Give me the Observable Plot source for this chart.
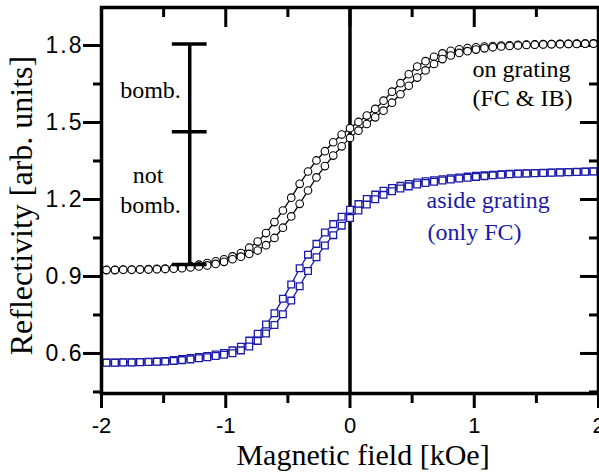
<!DOCTYPE html>
<html>
<head>
<meta charset="utf-8">
<script src="https://cdn.jsdelivr.net/npm/d3@7"></script>
<script src="https://cdn.jsdelivr.net/npm/@observablehq/plot@0.6"></script>
<style>
  html, body { margin: 0; padding: 0; background: white; }
</style>
</head>
<body>
<div id="chart"></div>
<script>
// Magnetic field [kOe] sample positions
const field = [-1.960,-1.892,-1.825,-1.757,-1.690,-1.622,-1.554,-1.487,-1.419,-1.352,
  -1.284,-1.216,-1.149,-1.081,-1.014,-0.946,-0.878,-0.811,-0.743,-0.676,
  -0.608,-0.540,-0.473,-0.405,-0.338,-0.270,-0.202,-0.135,-0.067,0.000,
  0.068,0.135,0.203,0.270,0.338,0.406,0.473,0.541,0.608,0.676,
  0.744,0.811,0.879,0.946,1.014,1.082,1.149,1.217,1.284,1.352,
  1.420,1.487,1.555,1.622,1.690,1.758,1.825,1.893,1.960];

// on grating (FC & IB): descending branch (left-shifted) and ascending branch
const onGratingDown = [0.926,0.926,0.927,0.927,0.928,0.929,0.930,0.931,0.933,0.936,
  0.940,0.946,0.952,0.959,0.967,0.978,0.991,1.012,1.036,1.069,
  1.112,1.157,1.207,1.261,1.309,1.352,1.388,1.423,1.453,1.478,
  1.502,1.527,1.553,1.585,1.620,1.653,1.688,1.718,1.739,1.756,
  1.769,1.779,1.785,1.790,1.793,1.796,1.798,1.800,1.801,1.802,
  1.803,1.804,1.805,1.805,1.806,1.806,1.807,1.807,1.808];
const onGratingUp = [0.925,0.925,0.926,0.926,0.927,0.927,0.928,0.929,0.930,0.932,
  0.935,0.939,0.943,0.949,0.957,0.967,0.977,0.988,1.001,1.022,
  1.050,1.090,1.134,1.183,1.235,1.286,1.330,1.371,1.407,1.440,
  1.468,1.494,1.520,1.546,1.577,1.610,1.643,1.675,1.703,1.728,
  1.747,1.761,1.771,1.778,1.784,1.789,1.793,1.796,1.798,1.800,
  1.802,1.803,1.804,1.805,1.805,1.806,1.806,1.807,1.807];

// aside grating (only FC)
const asideDown = [0.565,0.565,0.566,0.566,0.567,0.568,0.569,0.571,0.574,0.578,
  0.582,0.586,0.590,0.596,0.602,0.612,0.626,0.650,0.677,0.713,
  0.757,0.813,0.869,0.932,0.985,1.027,1.071,1.104,1.133,1.160,
  1.182,1.202,1.219,1.234,1.245,1.253,1.260,1.266,1.271,1.275,
  1.279,1.283,1.286,1.289,1.292,1.294,1.296,1.298,1.300,1.301,
  1.302,1.303,1.304,1.305,1.306,1.307,1.308,1.309,1.310];
const asideUp = [0.564,0.564,0.565,0.565,0.566,0.567,0.568,0.569,0.571,0.574,
  0.577,0.581,0.585,0.590,0.595,0.601,0.612,0.627,0.649,0.678,
  0.711,0.753,0.806,0.862,0.921,0.975,1.021,1.061,1.098,1.128,
  1.157,1.180,1.201,1.218,1.232,1.243,1.251,1.258,1.264,1.269,
  1.274,1.278,1.282,1.285,1.288,1.291,1.294,1.296,1.298,1.300,
  1.301,1.302,1.303,1.304,1.305,1.306,1.307,1.308,1.309];

// "bomb." / "not bomb." bar: x position and y levels
const barField = -1.29;
const barLevels = [0.947, 1.464, 1.806];

// tick values
const xMajor = [-2, -1, 0, 1, 2];
const xMinor = [-1.5, -0.5, 0.5, 1.5];
const yMajor = [0.6, 0.9, 1.2, 1.5, 1.8];
const yMinor = [0.45, 0.75, 1.05, 1.35, 1.65];

// annotations
const noteText = ["on grating", "(FC & IB)", "aside grating", "(only FC)"];
const noteX = [0.986, 0.985, 0.616, 0.624];
const noteY = [1.678, 1.565, 1.168, 1.044];
const barText = ["bomb.", "not", "bomb."];
const barTextX = [-1.606, -1.626, -1.606];
const barTextY = [1.596, 1.266, 1.149];

const blue = "#1a1aaa";
const pts = ys => field.map((x, i) => ({x, y: ys[i]}));
const notes = noteText.map((t, i) => ({t, x: noteX[i], y: noteY[i], c: i < 2 ? "black" : blue}));
const bnotes = barText.map((t, i) => ({t, x: barTextX[i], y: barTextY[i]}));

const W = 599, H = 474, mL = 101, mR = 1, mT = 7, mB = 81;
const fw = W - mL - mR, fh = H - mT - mB;
const capHalf = 0.14;

const serif = "'Liberation Serif', 'Times New Roman', serif";
const sans = "'Liberation Sans', Arial, sans-serif";

const chart = Plot.plot({
  width: W, height: H,
  marginLeft: mL, marginRight: mR, marginTop: mT, marginBottom: mB,
  x: {domain: [-2, 2]},
  y: {domain: [0.444, 1.948]},
  style: {fontFamily: sans, background: "white", color: "black"},
  marks: [
    Plot.axisX({anchor: "bottom", ticks: xMajor, tickSize: 15, strokeWidth: 3, tickPadding: 9,
      fontSize: 22, tickFormat: d => String(d), label: null}),
    Plot.axisX({anchor: "bottom", ticks: xMinor, tickSize: 10, strokeWidth: 3, tickFormat: () => "", label: null}),
    Plot.axisY({anchor: "left", ticks: yMajor, tickSize: 18, strokeWidth: 3, tickPadding: 0,
      fontSize: 23, tickFormat: d => d.toFixed(1), label: null}),
    Plot.axisY({anchor: "left", ticks: yMinor, tickSize: 8, strokeWidth: 3, tickFormat: () => "", label: null}),
    // inward mirrored ticks on top and right
    Plot.tickX(xMajor, {x: d => d, insetBottom: fh - 20, strokeWidth: 3}),
    Plot.tickX(xMinor, {x: d => d, insetBottom: fh - 10, strokeWidth: 3}),
    Plot.tickY(yMajor, {y: d => d, insetLeft: fw - 18, strokeWidth: 3}),
    Plot.tickY(yMinor, {y: d => d, insetLeft: fw - 9, strokeWidth: 3}),
    Plot.ruleX([0], {strokeWidth: 3.5}),
    // data
    Plot.line(pts(asideDown), {x: "x", y: "y", stroke: blue, strokeWidth: 1.3}),
    Plot.line(pts(asideUp), {x: "x", y: "y", stroke: blue, strokeWidth: 1.3}),
    Plot.dot(pts(asideDown), {x: "x", y: "y", symbol: "square", r: 3.8, fill: "white", stroke: blue, strokeWidth: 1.3}),
    Plot.dot(pts(asideUp), {x: "x", y: "y", symbol: "square", r: 3.8, fill: "white", stroke: blue, strokeWidth: 1.3}),
    Plot.line(pts(onGratingDown), {x: "x", y: "y", stroke: "black", strokeWidth: 1.3}),
    Plot.line(pts(onGratingUp), {x: "x", y: "y", stroke: "black", strokeWidth: 1.3}),
    Plot.dot(pts(onGratingDown), {x: "x", y: "y", r: 3.8, fill: "white", stroke: "black", strokeWidth: 1.1}),
    Plot.dot(pts(onGratingUp), {x: "x", y: "y", r: 3.8, fill: "white", stroke: "black", strokeWidth: 1.1}),
    // bomb bar
    Plot.ruleX([barField], {x: d => d, y1: barLevels[0], y2: barLevels[2], strokeWidth: 3.5}),
    Plot.ruleY(barLevels, {y: d => d, x1: barField - capHalf, x2: barField + capHalf, strokeWidth: 3.5}),
    // annotations
    Plot.text(notes, {x: "x", y: "y", text: "t", fill: "c", textAnchor: "start", lineAnchor: "bottom",
      fontSize: 24, fontFamily: serif}),
    Plot.text(bnotes, {x: "x", y: "y", text: "t", textAnchor: "middle", lineAnchor: "bottom",
      fontSize: 24, fontFamily: serif, fill: "black"}),
    // frame and axis titles
    Plot.frame({strokeWidth: 3.5}),
    Plot.text(["Magnetic field [kOe]"], {text: d => d, frameAnchor: "bottom", dx: 13, dy: 71,
      lineAnchor: "bottom", fontSize: 30, fontFamily: serif, fill: "black"}),
    Plot.text(["Reflectivity [arb. units]"], {text: d => d, frameAnchor: "left", rotate: -90, dx: -80, dy: 5,
      textAnchor: "middle", lineAnchor: "middle", fontSize: 32, fontFamily: serif, fill: "black"})
  ]
});

d3.select(chart).selectAll("g[aria-label='y-axis tick label'] text").attr("letter-spacing", "2px");
document.getElementById("chart").appendChild(chart);
</script>
</body>
</html>
